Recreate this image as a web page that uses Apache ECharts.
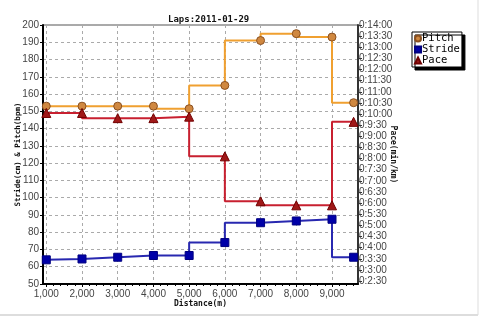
<!DOCTYPE html>
<html>
<head>
<meta charset="utf-8">
<script src="https://cdn.jsdelivr.net/npm/echarts@6/dist/echarts.min.js"></script>
<style>
html, body { margin: 0; padding: 0; background: #fff; }
#root { width: 480px; height: 318px; }
</style>
</head>
<body>
<div id="root"></div>
<script>
// lap end distances (m)
var distances = [1000, 2000, 3000, 4000, 5000, 6000, 7000, 8000, 9000, 9605]
var pitch = [153, 153, 153, 153, 151.5, 165, 191, 195, 193, 155]
var stride = [64, 64.5, 65.5, 66.5, 66.5, 74, 85.5, 86.5, 87.5, 65.5]
// pace in seconds per km
var pace = [603, 603, 589, 589, 593, 486, 365, 354, 354, 579]
var xTicks = [1000, 2000, 3000, 4000, 5000, 6000, 7000, 8000, 9000]
var paceTicks = []
for (var s = 150; s <= 840; s += 30) paceTicks.push(s)

var fmtPace = v => {
	var m = Math.floor(v / 60), sec = v % 60
	return '0:' + m + ':' + (sec < 10 ? '0' : '') + sec
}
var pairs = ys => distances.map((d, i) => [d, ys[i]])

var labelFont = { fontFamily: '"Liberation Sans Narrow", "Liberation Sans"', fontSize: 10, color: '#444' }
var boldName = { fontFamily: 'DejaVu Sans Mono', fontWeight: 'bold', fontSize: 8, color: '#111' }

var chart = echarts.init(document.getElementById('root'))
chart.setOption({
	animation: false,
	title: {
		text: 'Laps:2011-01-29', left: 163, top: 10,
		textStyle: { fontFamily: 'DejaVu Sans Mono', fontWeight: 'bold', fontSize: 9, color: '#111' }
	},
	grid: { left: 43, right: 122, top: 25, bottom: 34 },
	legend: {
		orient: 'vertical', left: 412, top: 32,
		padding: [1, 2, 1, 2], itemGap: 0, itemWidth: 6, itemHeight: 6,
		backgroundColor: '#fff', borderColor: '#000', borderWidth: 1,
		shadowColor: '#000', shadowOffsetX: 3, shadowOffsetY: 3, shadowBlur: 0,
		textStyle: { fontFamily: 'DejaVu Sans Mono', fontSize: 10.5, color: '#000', padding: [0, 0, 0, -4] },
		data: [
			{ name: 'Pitch', icon: 'circle' },
			{ name: 'Stride', icon: 'rect' },
			{ name: 'Pace', icon: 'triangle' }
		]
	},
	xAxis: {
		type: 'value', min: 908, max: 9728,
		name: 'Distance(m)', nameLocation: 'middle', nameGap: 16, nameMoveOverlap: false, nameTextStyle: boldName,
		axisLine: { lineStyle: { color: '#000', width: 2 } },
		axisTick: { customValues: xTicks, length: 3, lineStyle: { color: '#000' } },
		minorTick: { show: true, splitNumber: 10, length: 2, lineStyle: { color: '#000' } },
		axisLabel: Object.assign({ customValues: xTicks, margin: 5, formatter: v => v.toLocaleString('en-US') }, labelFont),
		splitLine: { show: true, lineStyle: { color: '#aaa', type: [3, 3] } }
	},
	yAxis: [{
		type: 'value', min: 50, max: 200, interval: 10,
		name: 'Stride(cm) & Pitch(bpm)', nameLocation: 'middle', nameGap: 21, nameMoveOverlap: false,
		nameTextStyle: Object.assign({}, boldName, { fontSize: 7.5 }),
		axisLine: { show: true, lineStyle: { color: '#000', width: 2 } },
		axisTick: { show: true, length: 3, lineStyle: { color: '#000' } },
		axisLabel: Object.assign({ margin: 4 }, labelFont),
		splitLine: { show: true, lineStyle: { color: '#aaa', type: [3, 3] } }
	}, {
		type: 'value', min: 142, max: 840,
		name: 'Pace(min/km)', nameLocation: 'middle', nameGap: 31, nameRotate: -90, nameMoveOverlap: false,
		nameTextStyle: boldName,
		axisLine: { show: true, lineStyle: { color: '#333', width: 2 } },
		axisTick: { show: true, customValues: paceTicks, length: 4, lineStyle: { color: '#333' } },
		axisLabel: Object.assign({ customValues: paceTicks, margin: 1, formatter: fmtPace }, labelFont),
		splitLine: { show: false }
	}],
	graphic: [
		{ type: 'line', shape: { x1: 43, y1: 25, x2: 358, y2: 25 }, style: { stroke: '#555', lineWidth: 1 } },
		{ type: 'line', shape: { x1: 0, y1: 315, x2: 478, y2: 315 }, style: { stroke: '#bbb', lineWidth: 1 } },
		{ type: 'line', shape: { x1: 478, y1: 0, x2: 478, y2: 315 }, style: { stroke: '#ddd', lineWidth: 1 } }
	],
	series: [{
		name: 'Pitch', type: 'line', step: 'start', data: pairs(pitch),
		symbol: 'circle', symbolSize: 8,
		lineStyle: { color: '#f0a030', width: 2 },
		itemStyle: { color: '#d08840', borderColor: '#8a5020', borderWidth: 1 }
	}, {
		name: 'Stride', type: 'line', step: 'start', data: pairs(stride),
		symbol: 'rect', symbolSize: 8,
		lineStyle: { color: '#2828b0', width: 2 },
		itemStyle: { color: '#0000a8', borderColor: '#000080', borderWidth: 1 }
	}, {
		name: 'Pace', type: 'line', step: 'start', yAxisIndex: 1, data: pairs(pace),
		symbol: 'triangle', symbolSize: 9,
		lineStyle: { color: '#c82030', width: 2 },
		itemStyle: { color: '#a01818', borderColor: '#700000', borderWidth: 1 }
	}]
})
</script>
</body>
</html>
